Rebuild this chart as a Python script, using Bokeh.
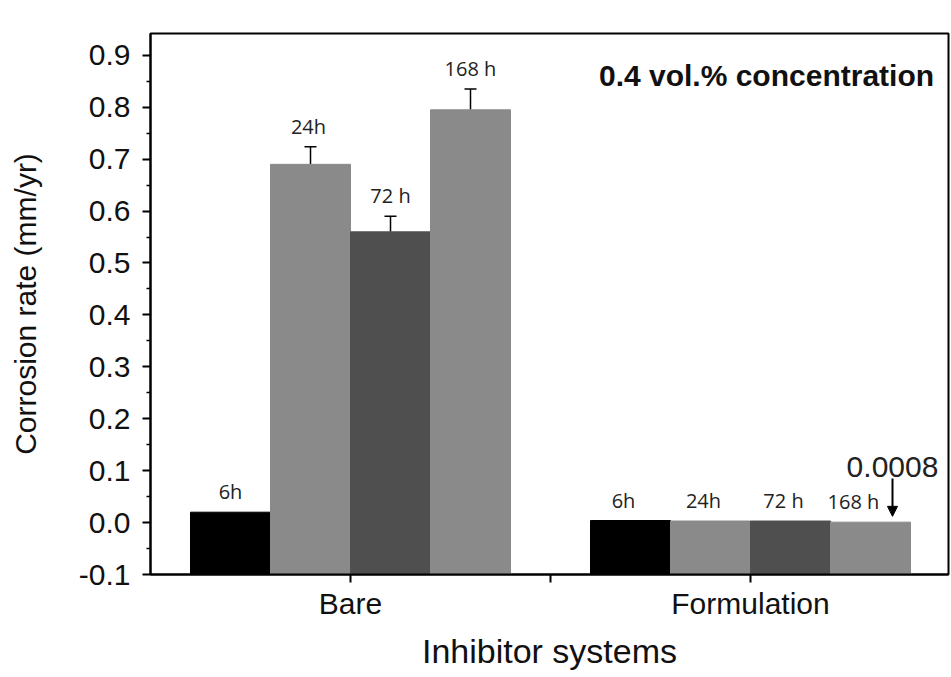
from bokeh.plotting import figure
from bokeh.models import (ColumnDataSource, FixedTicker, Range1d, Whisker, TeeHead,
                          Label, Arrow, NormalHead)
from bokeh.core.properties import value
from bokeh.embed import file_html
from bokeh.resources import INLINE

# ---- data ----
groups = ["Bare", "Formulation"]
times = ["6h", "24h", "72 h", "168 h"]
bare_rate = [0.02, 0.69, 0.56, 0.795]
bare_err = [0.0, 0.034, 0.03, 0.04]
form_rate = [0.004, 0.003, 0.003, 0.0008]
form_err = [0.0, 0.0, 0.0, 0.0]
y_ticks = [-0.1, 0.0, 0.1, 0.2, 0.3, 0.4, 0.5, 0.6, 0.7, 0.8, 0.9]
y_tick_labels = ["-0.1", "0.0", "0.1", "0.2", "0.3", "0.4", "0.5", "0.6", "0.7", "0.8", "0.9"]
annot_value = "0.0008"
title_text = "0.4 vol.% concentration"

# ---- styles ----
bar_colors = ["#000000", "#8a8a8a", "#4f4f4f", "#8a8a8a"]
label_dx = [[0, -2, 0, 0], [-7, -7, -7, -17]]  # pixel nudges of the bar labels
group_centers = [1, 3]
bar_w = 0.4
y_min = -0.1

xs, tops, errs, labs, cols, dxs = [], [], [], [], [], []
for g, (gc, rates, es) in enumerate(zip(group_centers, [bare_rate, form_rate], [bare_err, form_err])):
    for i, t in enumerate(times):
        xs.append(gc + (i - 1.5) * bar_w)
        tops.append(rates[i])
        errs.append(es[i])
        labs.append(t)
        cols.append(bar_colors[i])
        dxs.append(label_dx[g][i])

src = ColumnDataSource(dict(x=xs, top=tops, err=errs, lab=labs, col=cols, dx=dxs,
                            up=[a + b for a, b in zip(tops, errs)]))
err_idx = [k for k, e in enumerate(errs) if e > 0]
esrc = ColumnDataSource(dict(x=[xs[k] for k in err_idx], lo=[tops[k] for k in err_idx],
                             up=[tops[k] + errs[k] for k in err_idx]))

p = figure(width=950, height=672, output_backend="svg", toolbar_location=None,
           x_range=Range1d(0, 3.99), y_range=Range1d(y_min, 0.942),
           min_border_left=150, min_border_top=33, min_border_bottom=97, min_border_right=2)
p.xgrid.visible = False
p.ygrid.visible = False
p.outline_line_color = "black"
p.outline_line_width = 2
p.background_fill_color = "white"
p.border_fill_color = "white"

p.vbar(x="x", top="top", bottom=y_min, width=bar_w, fill_color="col", line_color="col", source=src)

p.add_layout(Whisker(base="x", lower="lo", upper="up", source=esrc, line_color="black", line_width=1.5,
                     upper_head=TeeHead(size=12, line_color="black", line_width=1.5), lower_head=None))

p.text(x="x", y="up", text="lab", source=src, text_font=value("Open Sans"), text_font_size="20px",
       text_align="center", text_baseline="bottom", x_offset="dx", y_offset=-7, text_color="#222222")

# title-like annotation
p.add_layout(Label(x=3.08, y=0.862, text=title_text, text_font="Liberation Sans", text_font_style="bold",
                   text_font_size="30px", text_align="center", text_baseline="middle", text_color="#111111"))
p.add_layout(Label(x=3.71, y=0.108, text=annot_value, text_font="Liberation Sans",
                   text_font_size="30px", text_align="center", text_baseline="middle", text_color="#222222"))
p.add_layout(Arrow(x_start=3.71, y_start=0.085, x_end=3.71, y_end=0.012, line_color="black", line_width=2,
                   end=NormalHead(size=10, fill_color="black", line_color="black")))

# axes
p.yaxis.ticker = FixedTicker(ticks=y_ticks, minor_ticks=[t + 0.05 for t in y_ticks[:-1]])
p.yaxis.major_label_overrides = {t: l for t, l in zip(y_ticks, y_tick_labels)}
p.xaxis.ticker = FixedTicker(ticks=[1, 2, 3], minor_ticks=[])
p.xaxis.major_label_overrides = {1: groups[0], 2: "", 3: groups[1]}

for ax in (p.xaxis[0], p.yaxis[0]):
    ax.axis_line_width = 2
    ax.axis_line_color = "black"
    ax.major_tick_line_width = 2
    ax.major_tick_in = 0
    ax.major_tick_out = 8
    ax.minor_tick_in = 0
    ax.minor_tick_out = 4
    ax.minor_tick_line_width = 1.5
    ax.major_label_text_font = "Liberation Sans"
    ax.major_label_text_color = "#111111"
    ax.axis_label_text_font = "Liberation Sans"
    ax.axis_label_text_font_style = "normal"
    ax.axis_label_text_color = "#111111"

p.yaxis.major_label_text_font_size = "30px"
p.yaxis.major_label_standoff = 12
p.yaxis.axis_label = "Corrosion rate (mm/yr)"
p.yaxis.axis_label_text_font_size = "30px"
p.yaxis.axis_label_standoff = 34

p.xaxis.major_label_text_font_size = "30px"
p.xaxis.major_label_standoff = 4
p.xaxis.axis_label = "Inhibitor systems"
p.xaxis.axis_label_text_font_size = "34px"
p.xaxis.axis_label_standoff = 9

open("out.html", "w").write(file_html(p, INLINE))
